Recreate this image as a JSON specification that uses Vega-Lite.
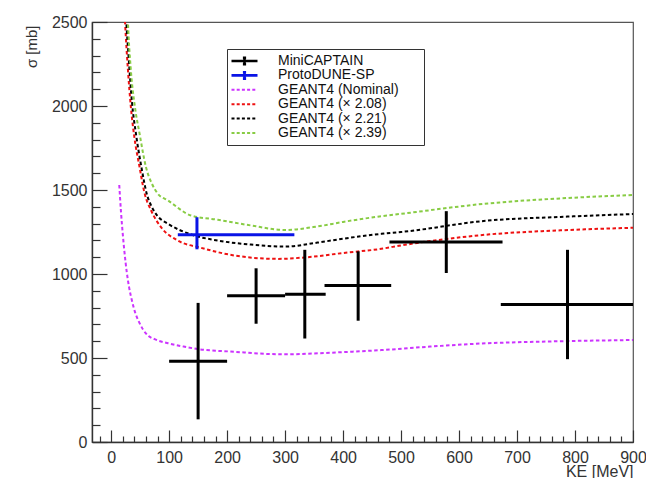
{
  "$schema": "https://vega.github.io/schema/vega-lite/v6.json",
  "width": 541,
  "height": 420,
  "autosize": "none",
  "padding": {"left": 92, "top": 22, "right": 13, "bottom": 36},
  "background": "white",
  "config": {
    "font": "Liberation Sans",
    "view": {"stroke": "#555", "strokeWidth": 1.2},
    "legend": {"labelFontSize": 14, "labelFont": "Liberation Sans"},
    "axis": {
      "grid": false,
      "domainColor": "#333",
      "domainWidth": 1.4,
      "tickColor": "#333",
      "tickWidth": 1.2,
      "labelColor": "#333",
      "labelFontSize": 16,
      "labelFont": "Liberation Sans",
      "labelFlush": false,
      "labelOverlap": false,
      "titleColor": "#333",
      "titleFont": "Liberation Sans",
      "titleFontWeight": "normal"
    }
  },
  "datasets": {
    "curves": [
      {"series": "GEANT4 (Nominal)", "ke": 14, "xs": 1530},
      {"series": "GEANT4 (Nominal)", "ke": 17, "xs": 1370},
      {"series": "GEANT4 (Nominal)", "ke": 20, "xs": 1240},
      {"series": "GEANT4 (Nominal)", "ke": 23, "xs": 1130},
      {"series": "GEANT4 (Nominal)", "ke": 27, "xs": 1010},
      {"series": "GEANT4 (Nominal)", "ke": 31, "xs": 920},
      {"series": "GEANT4 (Nominal)", "ke": 36, "xs": 840},
      {"series": "GEANT4 (Nominal)", "ke": 42, "xs": 765},
      {"series": "GEANT4 (Nominal)", "ke": 48, "xs": 715},
      {"series": "GEANT4 (Nominal)", "ke": 55, "xs": 670},
      {"series": "GEANT4 (Nominal)", "ke": 63, "xs": 635},
      {"series": "GEANT4 (Nominal)", "ke": 75, "xs": 612},
      {"series": "GEANT4 (Nominal)", "ke": 86, "xs": 598},
      {"series": "GEANT4 (Nominal)", "ke": 98, "xs": 588},
      {"series": "GEANT4 (Nominal)", "ke": 125, "xs": 568},
      {"series": "GEANT4 (Nominal)", "ke": 150, "xs": 553},
      {"series": "GEANT4 (Nominal)", "ke": 213, "xs": 537},
      {"series": "GEANT4 (Nominal)", "ke": 270, "xs": 524},
      {"series": "GEANT4 (Nominal)", "ke": 300, "xs": 522},
      {"series": "GEANT4 (Nominal)", "ke": 350, "xs": 527},
      {"series": "GEANT4 (Nominal)", "ke": 400, "xs": 535},
      {"series": "GEANT4 (Nominal)", "ke": 466, "xs": 547},
      {"series": "GEANT4 (Nominal)", "ke": 550, "xs": 568},
      {"series": "GEANT4 (Nominal)", "ke": 650, "xs": 588},
      {"series": "GEANT4 (Nominal)", "ke": 750, "xs": 598},
      {"series": "GEANT4 (Nominal)", "ke": 900, "xs": 607},

      {"series": "GEANT4 (× 2.08)", "ke": 22, "xs": 2650},
      {"series": "GEANT4 (× 2.08)", "ke": 24, "xs": 2500},
      {"series": "GEANT4 (× 2.08)", "ke": 29, "xs": 2214},
      {"series": "GEANT4 (× 2.08)", "ke": 34, "xs": 1995},
      {"series": "GEANT4 (× 2.08)", "ke": 40, "xs": 1816},
      {"series": "GEANT4 (× 2.08)", "ke": 49, "xs": 1637},
      {"series": "GEANT4 (× 2.08)", "ke": 57, "xs": 1490},
      {"series": "GEANT4 (× 2.08)", "ke": 69, "xs": 1378},
      {"series": "GEANT4 (× 2.08)", "ke": 86, "xs": 1279},
      {"series": "GEANT4 (× 2.08)", "ke": 115, "xs": 1199},
      {"series": "GEANT4 (× 2.08)", "ke": 155, "xs": 1156},
      {"series": "GEANT4 (× 2.08)", "ke": 213, "xs": 1110},
      {"series": "GEANT4 (× 2.08)", "ke": 287, "xs": 1090},
      {"series": "GEANT4 (× 2.08)", "ke": 339, "xs": 1100},
      {"series": "GEANT4 (× 2.08)", "ke": 400, "xs": 1125},
      {"series": "GEANT4 (× 2.08)", "ke": 466, "xs": 1150},
      {"series": "GEANT4 (× 2.08)", "ke": 500, "xs": 1170},
      {"series": "GEANT4 (× 2.08)", "ke": 650, "xs": 1235},
      {"series": "GEANT4 (× 2.08)", "ke": 775, "xs": 1260},
      {"series": "GEANT4 (× 2.08)", "ke": 900, "xs": 1275},

      {"series": "GEANT4 (× 2.21)", "ke": 24, "xs": 2700},
      {"series": "GEANT4 (× 2.21)", "ke": 26, "xs": 2520},
      {"series": "GEANT4 (× 2.21)", "ke": 30, "xs": 2300},
      {"series": "GEANT4 (× 2.21)", "ke": 36, "xs": 2020},
      {"series": "GEANT4 (× 2.21)", "ke": 43, "xs": 1830},
      {"series": "GEANT4 (× 2.21)", "ke": 52, "xs": 1640},
      {"series": "GEANT4 (× 2.21)", "ke": 62, "xs": 1470},
      {"series": "GEANT4 (× 2.21)", "ke": 70, "xs": 1400},
      {"series": "GEANT4 (× 2.21)", "ke": 80, "xs": 1345},
      {"series": "GEANT4 (× 2.21)", "ke": 98, "xs": 1299},
      {"series": "GEANT4 (× 2.21)", "ke": 138, "xs": 1235},
      {"series": "GEANT4 (× 2.21)", "ke": 184, "xs": 1199},
      {"series": "GEANT4 (× 2.21)", "ke": 241, "xs": 1175},
      {"series": "GEANT4 (× 2.21)", "ke": 299, "xs": 1163},
      {"series": "GEANT4 (× 2.21)", "ke": 356, "xs": 1187},
      {"series": "GEANT4 (× 2.21)", "ke": 400, "xs": 1210},
      {"series": "GEANT4 (× 2.21)", "ke": 466, "xs": 1239},
      {"series": "GEANT4 (× 2.21)", "ke": 500, "xs": 1250},
      {"series": "GEANT4 (× 2.21)", "ke": 650, "xs": 1318},
      {"series": "GEANT4 (× 2.21)", "ke": 775, "xs": 1340},
      {"series": "GEANT4 (× 2.21)", "ke": 900, "xs": 1357},

      {"series": "GEANT4 (× 2.39)", "ke": 27, "xs": 2700},
      {"series": "GEANT4 (× 2.39)", "ke": 29, "xs": 2500},
      {"series": "GEANT4 (× 2.39)", "ke": 34, "xs": 2214},
      {"series": "GEANT4 (× 2.39)", "ke": 41, "xs": 1995},
      {"series": "GEANT4 (× 2.39)", "ke": 49, "xs": 1836},
      {"series": "GEANT4 (× 2.39)", "ke": 60, "xs": 1637},
      {"series": "GEANT4 (× 2.39)", "ke": 70, "xs": 1540},
      {"series": "GEANT4 (× 2.39)", "ke": 80, "xs": 1480},
      {"series": "GEANT4 (× 2.39)", "ke": 98, "xs": 1438},
      {"series": "GEANT4 (× 2.39)", "ke": 138, "xs": 1348},
      {"series": "GEANT4 (× 2.39)", "ke": 184, "xs": 1323},
      {"series": "GEANT4 (× 2.39)", "ke": 241, "xs": 1289},
      {"series": "GEANT4 (× 2.39)", "ke": 299, "xs": 1262},
      {"series": "GEANT4 (× 2.39)", "ke": 356, "xs": 1283},
      {"series": "GEANT4 (× 2.39)", "ke": 400, "xs": 1310},
      {"series": "GEANT4 (× 2.39)", "ke": 466, "xs": 1344},
      {"series": "GEANT4 (× 2.39)", "ke": 500, "xs": 1358},
      {"series": "GEANT4 (× 2.39)", "ke": 650, "xs": 1420},
      {"series": "GEANT4 (× 2.39)", "ke": 775, "xs": 1450},
      {"series": "GEANT4 (× 2.39)", "ke": 900, "xs": 1470}
    ],
    "points": [
      {"series": "MiniCAPTAIN", "ke": 150, "kelo": 100, "kehi": 200, "xs": 480, "xslo": 135, "xshi": 828},
      {"series": "MiniCAPTAIN", "ke": 250, "kelo": 200, "kehi": 300, "xs": 870, "xslo": 704, "xshi": 1034},
      {"series": "MiniCAPTAIN", "ke": 334, "kelo": 300, "kehi": 370, "xs": 880, "xslo": 616, "xshi": 1144},
      {"series": "MiniCAPTAIN", "ke": 426, "kelo": 368, "kehi": 483, "xs": 931, "xslo": 722, "xshi": 1135},
      {"series": "MiniCAPTAIN", "ke": 578, "kelo": 480, "kehi": 675, "xs": 1191, "xslo": 1006, "xshi": 1374},
      {"series": "MiniCAPTAIN", "ke": 787, "kelo": 672, "kehi": 900, "xs": 819, "xslo": 493, "xshi": 1144},
      {"series": "ProtoDUNE-SP", "ke": 148, "kelo": 115, "kehi": 316, "xs": 1233, "xslo": 1147, "xshi": 1338}
    ]
  },
  "encoding": {
    "x": {
      "field": "ke", "type": "quantitative",
      "scale": {"domain": [-33, 900], "nice": false, "zero": false},
      "axis": {
        "values": [-20,0,20,40,60,80,100,120,140,160,180,200,220,240,260,280,300,320,340,360,380,400,420,440,460,480,500,520,540,560,580,600,620,640,660,680,700,720,740,760,780,800,820,840,860,880,900],
        "labelExpr": "datum.value % 100 === 0 ? datum.label : ''",
        "tickSize": {"condition": {"test": "datum.value % 100 === 0", "value": -12}, "value": -6},
        "labelPadding": 19,
        "title": "KE [MeV]",
        "titleFontSize": 16,
        "titleAnchor": "end",
        "titleAlign": "right",
        "titleBaseline": "alphabetic",
        "titleX": 541,
        "titleY": 34
      }
    },
    "y": {
      "field": "xs", "type": "quantitative",
      "scale": {"domain": [0, 2500], "nice": false},
      "axis": {
        "values": [0,100,200,300,400,500,600,700,800,900,1000,1100,1200,1300,1400,1500,1600,1700,1800,1900,2000,2100,2200,2300,2400,2500],
        "labelExpr": "datum.value % 500 === 0 ? datum.label : ''",
        "tickSize": {"condition": {"test": "datum.value % 500 === 0", "value": -15}, "value": -8},
        "labelPadding": 20,
        "format": "d",
        "title": "σ [mb]",
        "titleFontSize": 15,
        "titleAngle": -90,
        "titleAlign": "right",
        "titleBaseline": "top",
        "titleX": -68,
        "titleY": 3
      }
    },
    "color": {
      "field": "series", "type": "nominal",
      "scale": {
        "domain": ["MiniCAPTAIN", "ProtoDUNE-SP", "GEANT4 (Nominal)", "GEANT4 (× 2.08)", "GEANT4 (× 2.21)", "GEANT4 (× 2.39)"],
        "range": ["#000000", "#0a14e6", "#cc33ff", "#ee1111", "#000000", "#88cc44"]
      },
      "legend": {
        "orient": "none",
        "legendX": 135,
        "legendY": 27,
        "title": null,
        "direction": "vertical",
        "strokeColor": "#333",
        "fillColor": "white",
        "padding": 5,
        "rowPadding": 0.4,
        "gridAlign": "all",
        "labelFontSize": 14,
        "labelFont": "Liberation Sans",
        "labelColor": "#111",
        "labelExpr": "datum.label + '\u2800\u2800'",
        "symbolSize": 100,
        "symbolOffset": 5.5,
        "labelOffset": 26.5,
        "encode": {
          "symbols": {
            "update": {
              "shape": {"signal": "indexof(['MiniCAPTAIN','ProtoDUNE-SP'], datum.value) >= 0 ? 'M-2.6,0H2.6M0,-0.64V0.64M-0.32,-0.64H0.32M-0.32,0.64H0.32' : 'M-2.6,0H2.6'"},
              "strokeDash": {"signal": "indexof(['MiniCAPTAIN','ProtoDUNE-SP'], datum.value) >= 0 ? [1,0] : [3,2.2]"},
              "strokeWidth": {"signal": "indexof(['MiniCAPTAIN','ProtoDUNE-SP'], datum.value) >= 0 ? 2.6 : 2"},
              "strokeJoin": {"value": "round"},
              "fill": {"value": "transparent"}
            }
          }
        }
      }
    }
  },
  "layer": [
    {
      "data": {"name": "curves"},
      "mark": {"type": "line", "clip": true, "strokeWidth": 2, "strokeDash": [3.5, 2.5], "interpolate": "monotone"},
      "encoding": {"detail": {"field": "series"}}
    },
    {
      "data": {"name": "points"},
      "mark": {"type": "rule", "strokeWidth": 3, "clip": true},
      "encoding": {
        "x": {"field": "kelo", "type": "quantitative"},
        "x2": {"field": "kehi"},
        "y": {"field": "xs", "type": "quantitative"}
      }
    },
    {
      "data": {"name": "points"},
      "mark": {"type": "rule", "strokeWidth": 3, "clip": true},
      "encoding": {
        "y": {"field": "xslo", "type": "quantitative"},
        "y2": {"field": "xshi"}
      }
    }
  ]
}
